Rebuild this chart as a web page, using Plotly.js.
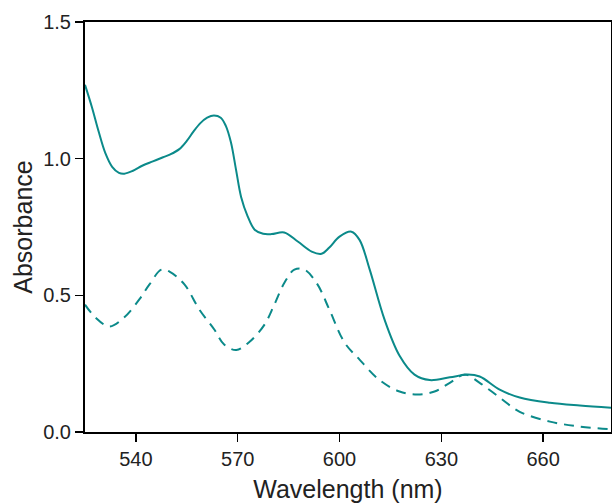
<!DOCTYPE html>
<html><head><meta charset="utf-8">
<script src="https://cdn.plot.ly/plotly-3.0.1.min.js"></script>
<style>html,body{margin:0;padding:0;background:#fff}#chart{width:612px;height:503px}</style>
</head><body><div id="chart"></div>
<script>
const solidX = [525,527,529,531,533,535,536.6,539,542,545,548,550,552.8,555,557,559,561,563,565,566.5,568,569.5,571,572.9,575,577.5,580,583.7,587.7,591.8,594.7,597,600,603.5,605.9,608.9,613.3,617.7,622.1,626.6,632.5,637.8,641.3,647.2,653.1,662,670.8,680];
const solidY = [1.27,1.19,1.1,1.02,0.97,0.948,0.945,0.955,0.975,0.99,1.005,1.015,1.035,1.065,1.1,1.13,1.15,1.158,1.15,1.12,1.06,0.96,0.86,0.79,0.74,0.725,0.724,0.73,0.697,0.66,0.652,0.675,0.715,0.733,0.703,0.594,0.41,0.279,0.21,0.19,0.2,0.21,0.203,0.155,0.126,0.107,0.097,0.089];
const dashX = [525,528,532.2,536.6,541,544,547.5,549.9,554.3,558.7,563.1,566,569.6,573.5,577.9,580.8,583.8,586.7,589.7,593.5,597,601.5,605.9,611.8,617.7,623,628,632.5,636.9,641.3,647.2,653.1,662,670.8,680];
const dashY = [0.466,0.42,0.386,0.42,0.485,0.54,0.594,0.587,0.54,0.448,0.375,0.32,0.3,0.33,0.393,0.466,0.547,0.594,0.594,0.54,0.448,0.327,0.265,0.19,0.148,0.137,0.148,0.18,0.21,0.18,0.126,0.074,0.038,0.02,0.01];
const xTicks = [540,570,600,630,660];
const yTicks = [0,0.5,1.0,1.5];
const yTickText = ['0.0','0.5','1.0','1.5'];
const teal = '#0b8a8a';
const traces = [
 {x: solidX, y: solidY, mode:'lines', line:{color:teal, width:2, shape:'spline', smoothing:1}, hoverinfo:'skip'},
 {x: dashX, y: dashY, mode:'lines', line:{color:teal, width:2, dash:'10px,7px', shape:'spline', smoothing:1}, hoverinfo:'skip'}
];
const fam = 'Liberation Sans, Arial, sans-serif';
const axisFont = {family:fam, size:20, color:'#222'};
const layout = {
 width:612, height:503, showlegend:false,
 paper_bgcolor:'#fff', plot_bgcolor:'#fff',
 margin:{l:85, r:1, t:22, b:71},
 xaxis:{range:[525,680], tickvals:xTicks, ticks:'outside', ticklen:8, tickwidth:1.5, tickcolor:'#000',
   showline:true, linecolor:'#000', linewidth:2, mirror:true, showgrid:false, zeroline:false,
   tickfont:axisFont,
   title:{text:'Wavelength (nm)', font:{family:fam, size:25, color:'#222'}, standoff:11}},
 yaxis:{range:[0,1.5], tickvals:yTicks, ticktext:yTickText, ticks:'outside', ticklen:8, tickwidth:1.5, tickcolor:'#000',
   showline:true, linecolor:'#000', linewidth:2, mirror:true, showgrid:false, zeroline:false,
   tickfont:axisFont,
   title:{text:'Absorbance', font:{family:fam, size:25, color:'#222'}, standoff:3}}
};
Plotly.newPlot('chart', traces, layout, {staticPlot:true, displayModeBar:false});
</script></body></html>
